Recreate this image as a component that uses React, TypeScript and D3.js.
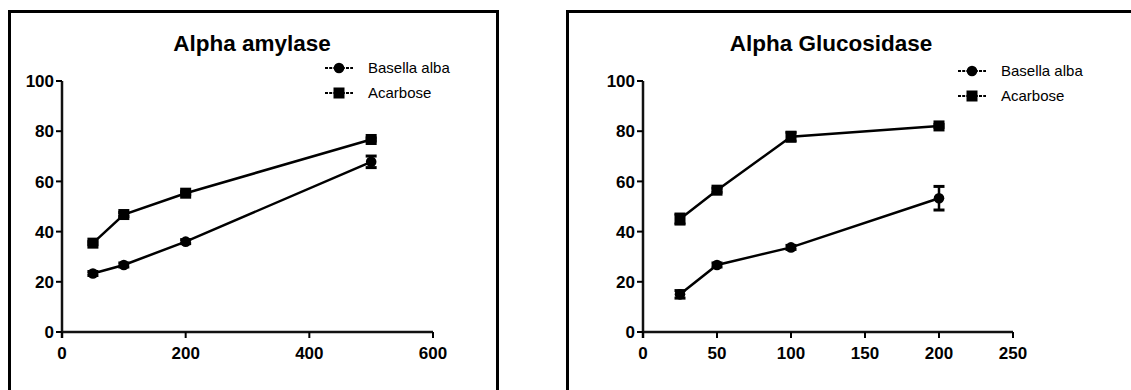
import React from 'react';
import * as d3 from 'd3';

// amylase panel
const amyDose = [50, 100, 200, 500];
const amyBasella = [23.3, 26.7, 36.0, 67.8];
const amyBasellaErr = [0.8, 0.8, 0.8, 2.3];
const amyAcarbose = [35.4, 46.8, 55.3, 76.7];
const amyAcarboseErr = [0.6, 0.8, 0.6, 0.6];
const amyXTicks = [0, 200, 400, 600];

// glucosidase panel
const gluDose = [25, 50, 100, 200];
const gluBasella = [15.0, 26.7, 33.7, 53.3];
const gluBasellaErr = [1.5, 0.8, 0.8, 4.7];
const gluAcarbose = [45.0, 56.5, 77.8, 82.1];
const gluAcarboseErr = [2.0, 0.8, 1.8, 0.6];
const gluXTicks = [0, 50, 100, 150, 200, 250];

const yTicks = [0, 20, 40, 60, 80, 100];
const seriesNames = ['Basella alba', 'Acarbose'];

const FONT = 'Arial, "Liberation Sans", Helvetica, sans-serif';

type PanelProps = {
  title: string;
  box: [number, number, number, number];
  xMax: number;
  xRange: [number, number];
  xTicks: number[];
  dose: number[];
  basella: number[];
  basellaErr: number[];
  acarbose: number[];
  acarboseErr: number[];
  titleX: number;
  legendX: number;
  legendY: number;
};

function Panel(p: PanelProps) {
  const x = d3.scaleLinear().domain([0, p.xMax]).range(p.xRange);
  const y = d3.scaleLinear().domain([0, 100]).range([332, 81]);
  const line = d3.line<[number, number]>().x(d => x(d[0])).y(d => y(d[1]));

  const series = [
    { vals: p.basella, err: p.basellaErr, shape: 'circle' },
    { vals: p.acarbose, err: p.acarboseErr, shape: 'square' },
  ];

  const marker = (shape: string, cx: number, cy: number) =>
    shape === 'circle'
      ? <circle cx={cx} cy={cy} r={5.3} fill="#000" />
      : <rect x={cx - 5.5} y={cy - 5.5} width={11} height={11} fill="#000" />;

  const x0 = p.xRange[0];
  return (
    <g>
      <rect x={p.box[0]} y={p.box[1]} width={p.box[2]} height={p.box[3]} fill="none" stroke="#000" strokeWidth={3} />
      <text x={p.titleX} y={51} textAnchor="middle" fontFamily={FONT} fontWeight="bold" fontSize={22.5}>{p.title}</text>

      {/* axes */}
      <line x1={x0} x2={x0} y1={y(100)} y2={y(0) + 6} stroke="#111" strokeWidth={2.5} />
      <line x1={x0} x2={p.xRange[1]} y1={y(0)} y2={y(0)} stroke="#111" strokeWidth={2.5} />
      {yTicks.map(t => (
        <g key={'y' + t}>
          <line x1={x0 - 6} x2={x0} y1={y(t)} y2={y(t)} stroke="#000" strokeWidth={2} />
          <text x={x0 - 8} y={y(t)} dy="0.36em" textAnchor="end" fontFamily={FONT} fontWeight="bold" fontSize={17}>{t}</text>
        </g>
      ))}
      {p.xTicks.map(t => (
        <g key={'x' + t}>
          <line x1={x(t)} x2={x(t)} y1={y(0)} y2={y(0) + 6} stroke="#000" strokeWidth={2} />
          <text x={x(t)} y={y(0) + 27} textAnchor="middle" fontFamily={FONT} fontWeight="bold" fontSize={17}>{t}</text>
        </g>
      ))}

      {/* series */}
      {series.map((s, si) => (
        <g key={'s' + si}>
          <path d={line(p.dose.map((d, i) => [d, s.vals[i]] as [number, number])) || ''} fill="none" stroke="#000" strokeWidth={2.5} />
          {p.dose.map((d, i) => (
            <g key={i}>
              <line x1={x(d)} x2={x(d)} y1={y(s.vals[i] - s.err[i])} y2={y(s.vals[i] + s.err[i])} stroke="#000" strokeWidth={2.5} />
              <line x1={x(d) - 5.5} x2={x(d) + 5.5} y1={y(s.vals[i] - s.err[i])} y2={y(s.vals[i] - s.err[i])} stroke="#000" strokeWidth={3} />
              <line x1={x(d) - 5.5} x2={x(d) + 5.5} y1={y(s.vals[i] + s.err[i])} y2={y(s.vals[i] + s.err[i])} stroke="#000" strokeWidth={3} />
              {marker(s.shape, x(d), y(s.vals[i]))}
            </g>
          ))}
        </g>
      ))}

      {/* legend */}
      {seriesNames.map((n, i) => {
        const ly = p.legendY + i * 25;
        return (
          <g key={'l' + i}>
            <line x1={p.legendX} x2={p.legendX + 28} y1={ly} y2={ly} stroke="#000" strokeWidth={2} strokeDasharray="3,1.2" />
            {marker(series[i].shape, p.legendX + 14, ly)}
            <text x={p.legendX + 43} y={ly} dy="0.36em" fontFamily={FONT} fontSize={15}>{n}</text>
          </g>
        );
      })}
    </g>
  );
}

export default function App() {
  return (
    <svg width={1131} height={390} style={{ position: 'absolute', left: 0, top: 0, background: '#fff' }}>
      <rect width={1131} height={390} fill="#fff" />
      <Panel title="Alpha amylase" box={[9.5, 11.5, 488, 400]} xMax={600} xRange={[62, 433]} xTicks={amyXTicks}
        dose={amyDose} basella={amyBasella} basellaErr={amyBasellaErr} acarbose={amyAcarbose} acarboseErr={amyAcarboseErr}
        titleX={252} legendX={325} legendY={68} />
      <Panel title="Alpha Glucosidase" box={[567.5, 11.5, 600, 400]} xMax={250} xRange={[643, 1013]} xTicks={gluXTicks}
        dose={gluDose} basella={gluBasella} basellaErr={gluBasellaErr} acarbose={gluAcarbose} acarboseErr={gluAcarboseErr}
        titleX={831} legendX={958} legendY={71} />
    </svg>
  );
}
